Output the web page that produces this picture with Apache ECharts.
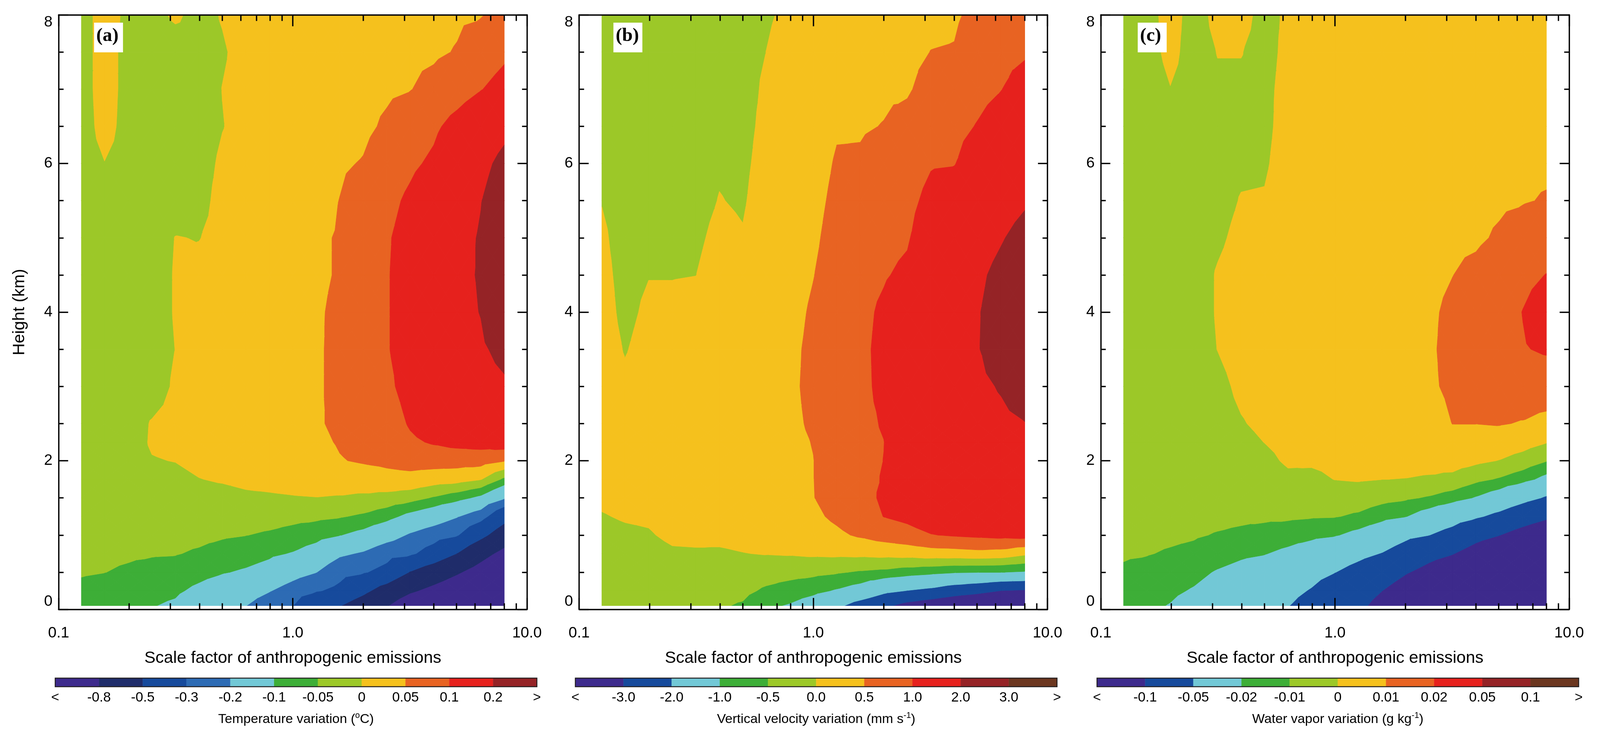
<!DOCTYPE html>
<html lang="en">
<head>
<meta charset="UTF-8">
<title>scale factor contours</title>
<script src="https://cdn.jsdelivr.net/npm/echarts@6/dist/echarts.min.js"></script>
<style>
  * { margin: 0; padding: 0; }
  html, body { background: #fff; overflow: hidden; }
  #chart { width: 100vw; height: 100vh; }
</style>
</head>
<body>
<div id="chart"></div>
<script>
// model grid: scale factors (x) and heights in km (y)
var scaleFactors = [0.125, 0.157, 0.198, 0.25, 0.315, 0.397, 0.5, 0.63, 0.794, 1.0, 1.26, 1.587, 2.0, 2.52, 3.175, 4.0, 5.04, 6.35, 8.0];
var heights = [0.05, 0.25, 0.5, 0.75, 1.0, 1.25, 1.5, 1.75, 2.0, 2.25, 2.5, 3.0, 3.5, 4.0, 4.5, 5.0, 5.5, 6.0, 6.5, 7.0, 7.5, 8.0];

// one vertical profile (bottom -> top) per scale factor
var tempVar = [
  [-0.07, -0.058, -0.047, -0.043, -0.038, -0.035, -0.032, -0.03, -0.028, -0.027, -0.025, -0.025, -0.025, -0.025, -0.025, -0.025, -0.025, -0.02, -0.02, -0.02, -0.02, -0.02],
  [-0.075, -0.063, -0.0495, -0.043, -0.038, -0.034, -0.03, -0.027, -0.024, -0.022, -0.02, -0.02, -0.02, -0.02, -0.02, -0.02, -0.02, -0.001, 0.015, 0.02, 0.02, 0.02],
  [-0.085, -0.072, -0.055, -0.045, -0.038, -0.032, -0.027, -0.022, -0.016, -0.018, -0.02, -0.02, -0.02, -0.02, -0.02, -0.02, -0.02, -0.015, -0.015, -0.015, -0.015, -0.01],
  [-0.097, -0.082, -0.062, -0.047, -0.038, -0.03, -0.022, -0.013, -0.002, 0.004, 0.003, -0.02, -0.02, -0.02, -0.02, -0.02, -0.02, -0.02, -0.02, -0.02, -0.02, -0.01],
  [-0.11, -0.09, -0.066, -0.048, -0.038, -0.028, -0.019, -0.01, 0.001, 0.008, 0.012, 0.006, 0.0005, 0.003, 0.003, 0.001, -0.02, -0.02, -0.02, -0.02, -0.015, 0.005],
  [-0.15, -0.115, -0.08, -0.055, -0.04, -0.028, -0.015, -0.001, 0.01, 0.016, 0.018, 0.012, 0.008, 0.01, 0.01, -0.001, -0.01, -0.012, -0.015, -0.015, -0.01, -0.01],
  [-0.185, -0.14, -0.096, -0.066, -0.045, -0.03, -0.014, 0.004, 0.015, 0.02, 0.022, 0.02, 0.016, 0.018, 0.018, 0.01, 0.01, 0.005, -0.001, 0.0005, -0.003, 0.002],
  [-0.198, -0.16, -0.108, -0.075, -0.049, -0.03, -0.008, 0.01, 0.02, 0.025, 0.028, 0.027, 0.024, 0.025, 0.025, 0.02, 0.02, 0.012, 0.01, 0.01, 0.01, 0.015],
  [-0.25, -0.195, -0.125, -0.09, -0.056, -0.032, -0.006, 0.014, 0.025, 0.03, 0.033, 0.033, 0.03, 0.03, 0.03, 0.028, 0.025, 0.02, 0.02, 0.02, 0.02, 0.02],
  [-0.298, -0.24, -0.165, -0.104, -0.066, -0.037, -0.003, 0.018, 0.03, 0.036, 0.04, 0.04, 0.038, 0.038, 0.038, 0.035, 0.03, 0.03, 0.025, 0.025, 0.025, 0.025],
  [-0.45, -0.29, -0.198, -0.13, -0.08, -0.04, -0.001, 0.022, 0.035, 0.042, 0.046, 0.047, 0.047, 0.047, 0.046, 0.046, 0.04, 0.035, 0.03, 0.03, 0.03, 0.03],
  [-0.49, -0.33, -0.265, -0.185, -0.098, -0.046, -0.004, 0.025, 0.048, 0.053, 0.057, 0.056, 0.056, 0.055, 0.052, 0.052, 0.0505, 0.046, 0.035, 0.035, 0.035, 0.03],
  [-0.62, -0.45, -0.29, -0.21, -0.12, -0.058, -0.01, 0.03, 0.054, 0.06, 0.068, 0.07, 0.075, 0.075, 0.075, 0.075, 0.065, 0.052, 0.043, 0.04, 0.04, 0.035],
  [-0.78, -0.6, -0.34, -0.26, -0.16, -0.08, -0.018, 0.038, 0.058, 0.068, 0.075, 0.09, 0.097, 0.097, 0.097, 0.095, 0.085, 0.07, 0.055, 0.045, 0.042, 0.035],
  [-1.0, -0.76, -0.51, -0.28, -0.21, -0.12, -0.03, 0.038, 0.065, 0.092, 0.105, 0.118, 0.12, 0.12, 0.12, 0.12, 0.11, 0.09, 0.07, 0.049, 0.045, 0.04],
  [-1.1, -0.88, -0.63, -0.36, -0.25, -0.15, -0.055, 0.025, 0.07, 0.105, 0.125, 0.14, 0.15, 0.15, 0.15, 0.15, 0.14, 0.11, 0.09, 0.06, 0.045, 0.04],
  [-1.2, -1.0, -0.77, -0.505, -0.29, -0.195, -0.08, 0.02, 0.07, 0.115, 0.14, 0.16, 0.17, 0.18, 0.185, 0.18, 0.17, 0.15, 0.12, 0.075, 0.052, 0.045],
  [-1.4, -1.15, -0.92, -0.7, -0.44, -0.25, -0.115, 0.003, 0.07, 0.12, 0.15, 0.175, 0.19, 0.202, 0.205, 0.205, 0.198, 0.18, 0.15, 0.098, 0.07, 0.048],
  [-1.6, -1.35, -1.1, -0.88, -0.63, -0.42, -0.19, -0.06, 0.053, 0.13, 0.16, 0.19, 0.22, 0.26, 0.27, 0.26, 0.24, 0.22, 0.18, 0.12, 0.09, 0.06]
];

var wVar = [
  [-0.35, -0.3, -0.25, -0.18, -0.1, -0.02, 0.06, 0.12, 0.15, 0.17, 0.18, 0.18, 0.16, 0.13, 0.09, 0.05, -0.01, -0.05, -0.08, -0.1, -0.1, -0.1],
  [-0.35, -0.3, -0.24, -0.15, -0.06, 0.03, 0.1, 0.14, 0.15, 0.15, 0.13, 0.07, -0.02, -0.08, -0.1, -0.12, -0.13, -0.14, -0.14, -0.14, -0.13, -0.12],
  [-0.35, -0.3, -0.22, -0.13, -0.03, 0.05, 0.12, 0.16, 0.18, 0.19, 0.19, 0.17, 0.12, 0.06, -0.01, -0.06, -0.1, -0.12, -0.13, -0.14, -0.14, -0.13],
  [-0.33, -0.27, -0.18, -0.05, 0.07, 0.14, 0.18, 0.2, 0.21, 0.21, 0.2, 0.18, 0.13, 0.06, -0.01, -0.06, -0.1, -0.12, -0.13, -0.14, -0.14, -0.13],
  [-0.32, -0.26, -0.17, -0.04, 0.08, 0.15, 0.19, 0.21, 0.22, 0.22, 0.22, 0.2, 0.15, 0.08, -0.002, -0.05, -0.09, -0.11, -0.12, -0.13, -0.13, -0.12],
  [-0.45, -0.36, -0.22, -0.05, 0.09, 0.17, 0.21, 0.23, 0.24, 0.25, 0.25, 0.24, 0.21, 0.17, 0.12, 0.07, 0.01, -0.03, -0.06, -0.08, -0.09, -0.09],
  [-0.55, -0.38, -0.2, -0.01, 0.12, 0.2, 0.25, 0.27, 0.28, 0.29, 0.29, 0.28, 0.24, 0.18, 0.1, 0.02, -0.03, -0.06, -0.08, -0.09, -0.09, -0.08],
  [-0.9, -0.58, -0.28, 0.02, 0.16, 0.25, 0.3, 0.33, 0.35, 0.36, 0.36, 0.35, 0.32, 0.28, 0.24, 0.19, 0.15, 0.11, 0.07, 0.04, 0.002, -0.03],
  [-1.05, -0.72, -0.33, 0.04, 0.2, 0.3, 0.36, 0.4, 0.42, 0.43, 0.44, 0.44, 0.42, 0.38, 0.34, 0.3, 0.26, 0.22, 0.18, 0.14, 0.1, 0.05],
  [-1.35, -0.85, -0.38, 0.08, 0.3, 0.42, 0.49, 0.495, 0.495, 0.51, 0.54, 0.58, 0.58, 0.55, 0.49, 0.43, 0.38, 0.33, 0.28, 0.24, 0.2, 0.15],
  [-1.8, -1.06, -0.45, 0.1, 0.42, 0.58, 0.65, 0.68, 0.7, 0.71, 0.72, 0.73, 0.73, 0.72, 0.7, 0.66, 0.6, 0.54, 0.46, 0.4, 0.35, 0.3],
  [-2.4, -1.3, -0.55, 0.12, 0.56, 0.75, 0.82, 0.86, 0.88, 0.9, 0.9, 0.9, 0.9, 0.88, 0.84, 0.78, 0.7, 0.54, 0.47, 0.42, 0.37, 0.33],
  [-2.8, -1.8, -0.62, 0.16, 0.7, 1.01, 1.08, 1.03, 1.005, 0.995, 1.03, 1.1, 1.12, 1.08, 0.96, 0.86, 0.76, 0.64, 0.51, 0.45, 0.4, 0.36],
  [-3.3, -2.02, -0.75, 0.2, 0.82, 1.12, 1.3, 1.35, 1.38, 1.4, 1.42, 1.45, 1.42, 1.32, 1.1, 0.95, 0.85, 0.74, 0.62, 0.46, 0.41, 0.38],
  [-3.6, -2.2, -0.85, 0.28, 0.98, 1.3, 1.45, 1.52, 1.56, 1.6, 1.62, 1.66, 1.66, 1.6, 1.5, 1.35, 1.15, 0.96, 0.8, 0.64, 0.505, 0.42],
  [-3.9, -2.5, -0.95, 0.3, 1.05, 1.38, 1.55, 1.63, 1.68, 1.72, 1.75, 1.8, 1.82, 1.78, 1.68, 1.5, 1.3, 0.98, 0.85, 0.7, 0.52, 0.45],
  [-4.2, -2.7, -0.98, 0.35, 1.1, 1.45, 1.62, 1.72, 1.78, 1.82, 1.86, 1.92, 1.98, 1.97, 1.9, 1.75, 1.55, 1.3, 1.03, 0.85, 0.72, 0.6],
  [-4.5, -3.02, -0.99, 0.3, 1.15, 1.5, 1.68, 1.78, 1.84, 1.88, 1.92, 2.03, 2.2, 2.22, 2.15, 1.96, 1.75, 1.5, 1.25, 0.99, 0.85, 0.72],
  [-4.8, -3.1, -1.05, 0.1, 1.2, 1.55, 1.72, 1.82, 1.88, 1.93, 1.99, 2.2, 2.4, 2.45, 2.38, 2.2, 1.93, 1.7, 1.5, 1.25, 0.93, 0.8]
];

var qVar = [
  [-0.016, -0.014, -0.011, -0.0092, -0.008, -0.007, -0.006, -0.006, -0.005, -0.005, -0.005, -0.005, -0.005, -0.005, -0.005, -0.005, -0.005, -0.005, -0.005, -0.005, -0.004, -0.004],
  [-0.018, -0.016, -0.0125, -0.0096, -0.008, -0.007, -0.006, -0.006, -0.005, -0.005, -0.005, -0.005, -0.005, -0.005, -0.005, -0.005, -0.005, -0.005, -0.005, -0.004, -0.003, -0.003],
  [-0.0205, -0.018, -0.0145, -0.0108, -0.0085, -0.007, -0.006, -0.005, -0.005, -0.005, -0.005, -0.005, -0.005, -0.005, -0.005, -0.005, -0.005, -0.004, -0.003, -0.0002, 0.002, 0.003],
  [-0.025, -0.021, -0.017, -0.012, -0.0092, -0.0075, -0.006, -0.005, -0.0045, -0.004, -0.004, -0.003, -0.003, -0.003, -0.003, -0.003, -0.003, -0.003, -0.003, -0.003, -0.003, -0.003],
  [-0.03, -0.025, -0.021, -0.015, -0.0105, -0.008, -0.0065, -0.0055, -0.0045, -0.004, -0.003, -0.002, 0.0001, 0.0005, 0.0005, -0.001, -0.002, -0.002, -0.002, -0.001, 0.0002, 0.002],
  [-0.036, -0.03, -0.024, -0.018, -0.0115, -0.0085, -0.0065, -0.005, -0.0035, -0.002, -0.0005, 0.0015, 0.003, 0.003, 0.0025, 0.0015, 0.0003, -0.001, -0.0015, -0.001, 0.0002, 0.002],
  [-0.045, -0.037, -0.027, -0.0195, -0.013, -0.0085, -0.006, -0.004, -0.0018, 0.0001, 0.0015, 0.003, 0.004, 0.004, 0.0035, 0.0025, 0.0005, -0.0008, -0.0015, -0.0015, -0.002, -0.002],
  [-0.049, -0.042, -0.031, -0.023, -0.015, -0.0085, -0.005, -0.0015, 0.001, 0.002, 0.003, 0.004, 0.0045, 0.005, 0.005, 0.0045, 0.004, 0.003, 0.0025, 0.002, 0.0015, 0.001],
  [-0.062, -0.052, -0.04, -0.028, -0.017, -0.0092, -0.0055, -0.002, 0.0012, 0.0025, 0.0035, 0.0045, 0.005, 0.0055, 0.0055, 0.005, 0.0045, 0.004, 0.0035, 0.003, 0.0025, 0.002],
  [-0.085, -0.068, -0.0495, -0.035, -0.019, -0.0095, -0.005, 0.0002, 0.002, 0.003, 0.004, 0.005, 0.0055, 0.006, 0.006, 0.0055, 0.005, 0.0045, 0.004, 0.0035, 0.003, 0.0025],
  [-0.09, -0.08, -0.06, -0.043, -0.024, -0.0115, -0.005, 0.0008, 0.0025, 0.0035, 0.0045, 0.0055, 0.006, 0.0065, 0.0065, 0.006, 0.0055, 0.005, 0.0045, 0.004, 0.0035, 0.003],
  [-0.115, -0.0995, -0.072, -0.051, -0.031, -0.016, -0.007, 0.0001, 0.003, 0.004, 0.005, 0.006, 0.0065, 0.007, 0.007, 0.0065, 0.006, 0.0055, 0.005, 0.0045, 0.004, 0.0035],
  [-0.16, -0.125, -0.096, -0.065, -0.043, -0.0195, -0.0085, -0.0002, 0.003, 0.0045, 0.0055, 0.0068, 0.0075, 0.008, 0.008, 0.0075, 0.007, 0.0065, 0.006, 0.0055, 0.005, 0.0045],
  [-0.19, -0.15, -0.115, -0.085, -0.0495, -0.027, -0.011, -0.001, 0.003, 0.005, 0.0065, 0.0088, 0.009, 0.0088, 0.0082, 0.0078, 0.0073, 0.0068, 0.0063, 0.006, 0.0055, 0.005],
  [-0.23, -0.18, -0.135, -0.098, -0.062, -0.036, -0.015, -0.0025, 0.004, 0.0075, 0.0101, 0.0115, 0.012, 0.0115, 0.0099, 0.0088, 0.008, 0.0075, 0.007, 0.0065, 0.006, 0.0055],
  [-0.27, -0.21, -0.16, -0.12, -0.085, -0.046, -0.021, -0.0075, 0.002, 0.007, 0.0101, 0.0125, 0.014, 0.0135, 0.012, 0.0088, 0.008, 0.0078, 0.0075, 0.007, 0.0065, 0.006],
  [-0.3, -0.24, -0.185, -0.14, -0.099, -0.058, -0.028, -0.011, -0.0003, 0.006, 0.0105, 0.014, 0.016, 0.0165, 0.015, 0.011, 0.0088, 0.0082, 0.0078, 0.0074, 0.007, 0.0065],
  [-0.34, -0.27, -0.21, -0.16, -0.12, -0.075, -0.04, -0.016, -0.004, 0.004, 0.0095, 0.015, 0.0195, 0.0202, 0.018, 0.014, 0.0095, 0.0088, 0.0083, 0.0079, 0.0075, 0.007],
  [-0.38, -0.31, -0.24, -0.19, -0.14, -0.092, -0.053, -0.024, -0.0095, 0.0005, 0.0075, 0.015, 0.021, 0.024, 0.0202, 0.016, 0.0105, 0.0088, 0.009, 0.0085, 0.008, 0.0075]
];

// contour levels, fill colours and colour bar labels
var tempLevels = [-0.8, -0.5, -0.3, -0.2, -0.1, -0.05, 0, 0.05, 0.1, 0.2];
var wLevels = [-3, -2, -1, -0.5, 0, 0.5, 1, 2, 3];
var qLevels = [-0.1, -0.05, -0.02, -0.01, 0, 0.01, 0.02, 0.05, 0.1];
var tempColors = ['#3D2A8C', '#1F2C6A', '#164A9C', '#2D6BB4', '#72C8D6', '#3DAE37', '#9CC828', '#F5C11D', '#E86322', '#E6211D', '#952326'];
var wqColors = ['#3D2A8C', '#164A9C', '#72C8D6', '#3DAE37', '#9CC828', '#F5C11D', '#E86322', '#E6211D', '#952326', '#6B361F'];
var tempTickLabels = ['<', '-0.8', '-0.5', '-0.3', '-0.2', '-0.1', '-0.05', '0', '0.05', '0.1', '0.2', '>'];
var wTickLabels = ['<', '-3.0', '-2.0', '-1.0', '-0.5', '0.0', '0.5', '1.0', '2.0', '3.0', '>'];
var qTickLabels = ['<', '-0.1', '-0.05', '-0.02', '-0.01', '0', '0.01', '0.02', '0.05', '0.1', '>'];
var minorScaleTicks = [0.2, 0.3, 0.4, 0.5, 0.6, 0.7, 0.8, 0.9, 2, 3, 4, 5, 6, 7, 8, 9];

var panels = [
  { left: 154, tag: '(a)', tagLeft: 247, profiles: tempVar, levels: tempLevels, colors: tempColors,
    cbLeft: 145, cbLabels: tempTickLabels, cbTitle: 'Temperature variation ({sup|o}C)' },
  { left: 1521, tag: '(b)', tagLeft: 1611, profiles: wVar, levels: wLevels, colors: wqColors,
    cbLeft: 1511, cbLabels: wTickLabels, cbTitle: 'Vertical velocity variation (mm s{sup|-1})' },
  { left: 2891, tag: '(c)', tagLeft: 2988, profiles: qVar, levels: qLevels, colors: wqColors,
    cbLeft: 2881, cbLabels: qTickLabels, cbTitle: 'Water vapor variation (g kg{sup|-1})' }
];

// layout is measured on a 4202 x 1897 figure and scaled to the window
var W = window.innerWidth || 4202, H = window.innerHeight || 1897;
var sx = W / 4202, sy = H / 1897, s = Math.min(sx, sy);
var FONT = 'Liberation Sans';
var plotTop = 38 * sy, plotH = 1522 * sy, plotW = 1230 * sx;
var cbTop = 1736 * sy, cbH = 22 * sy, cbW = 1265 * sx;

// keep the part of a polygon on one side of a level (side 1: v >= level, -1: v <= level)
function clip(poly, level, side) {
  var out = [];
  for (var i = 0; i < poly.length; i++) {
    var a = poly[i], b = poly[(i + 1) % poly.length];
    var ina = (a.v - level) * side >= 0, inb = (b.v - level) * side >= 0;
    if (ina) out.push(a);
    if (ina !== inb) {
      var t = (level - a.v) / (b.v - a.v);
      out.push({ x: a.x + t * (b.x - a.x), y: a.y + t * (b.y - a.y), v: level });
    }
  }
  return out;
}

// filled contours for one grid cell, split into 4 triangles
function contourItem(profiles, levels, colors) {
  return function (params, api) {
    var c = api.value(2), r = api.value(3);
    var pts = [[c, r], [c + 1, r], [c + 1, r + 1], [c, r + 1]].map(function (d) {
      var p = api.coord([scaleFactors[d[0]], heights[d[1]]]);
      return { x: p[0], y: p[1], v: profiles[d[0]][d[1]] };
    });
    var mid = { x: 0, y: 0, v: 0 };
    pts.forEach(function (p) { mid.x += p.x / 4; mid.y += p.y / 4; mid.v += p.v / 4; });
    var children = [];
    for (var t = 0; t < 4; t++) {
      var tri = [pts[t], pts[(t + 1) % 4], mid];
      for (var b = 0; b <= levels.length; b++) {
        var poly = tri;
        if (b > 0) poly = clip(poly, levels[b - 1], 1);
        if (b < levels.length && poly.length > 2) poly = clip(poly, levels[b], -1);
        if (poly.length > 2) {
          children.push({
            type: 'polygon',
            shape: { points: poly.map(function (p) { return [p.x, p.y]; }) },
            style: { fill: colors[b], stroke: colors[b], lineWidth: 1 }
          });
        }
      }
    }
    return { type: 'group', children: children };
  };
}

function minorTickItem(params, api) {
  var v = api.value(0);
  var lo = api.coord([v, 0]), hi = api.coord([v, 8]);
  var st = { stroke: '#000', lineWidth: 3.5 * s };
  return {
    type: 'group', children: [
      { type: 'line', shape: { x1: lo[0], y1: lo[1], x2: lo[0], y2: lo[1] - 16 * s }, style: st },
      { type: 'line', shape: { x1: hi[0], y1: hi[1], x2: hi[0], y2: hi[1] + 16 * s }, style: st }
    ]
  };
}

var cells = [];
for (var c = 0; c < scaleFactors.length - 1; c++) {
  for (var r = 0; r < heights.length - 1; r++) {
    cells.push([scaleFactors[c], heights[r], c, r]);
  }
}

var lineSt = { color: '#000', width: 3.5 * s };
var grid = [], xAxis = [], yAxis = [], series = [], graphic = [];

panels.forEach(function (p, i) {
  grid.push({ left: p.left * sx, top: plotTop, width: plotW, height: plotH, outerBoundsMode: 'none' });
  [0, 1].forEach(function (k) {
    xAxis.push({
      type: 'log', gridIndex: i, min: 0.1, max: 10, logBase: 10, position: k ? 'top' : 'bottom', z: 5,
      axisLine: { show: true, onZero: false, lineStyle: lineSt },
      axisTick: { show: true, inside: true, length: 30 * s, lineStyle: lineSt },
      minorTick: { show: false }, splitLine: { show: false },
      axisLabel: {
        show: !k, fontFamily: FONT, fontSize: 40 * s, color: '#000', margin: 42 * sy,
        showMinLabel: true, showMaxLabel: true,
        formatter: function (v) { return Number(v).toFixed(1); }
      },
      name: k ? '' : 'Scale factor of anthropogenic emissions', nameLocation: 'middle', nameGap: 104 * sy,
      nameTextStyle: { fontFamily: FONT, fontSize: 44 * s, color: '#000' }
    });
    yAxis.push({
      type: 'value', gridIndex: i, min: 0, max: 8, interval: 2, position: k ? 'right' : 'left', z: 5,
      axisLine: { show: true, onZero: false, lineStyle: lineSt },
      axisTick: { show: true, inside: true, length: 25 * s, lineStyle: lineSt },
      minorTick: { show: true, splitNumber: 4, length: 13 * s, lineStyle: lineSt },
      splitLine: { show: false }, minorSplitLine: { show: false },
      axisLabel: {
        show: !k, fontFamily: FONT, fontSize: 40 * s, color: '#000', margin: 16 * sx,
        verticalAlignMinLabel: 'bottom', verticalAlignMaxLabel: 'top'
      },
      name: (i === 0 && !k) ? 'Height (km)' : '', nameLocation: 'middle', nameGap: 80 * sx, nameRotate: 90,
      nameTextStyle: { fontFamily: FONT, fontSize: 44 * s, color: '#000' }
    });
  });
  series.push({
    type: 'custom', xAxisIndex: 2 * i, yAxisIndex: 2 * i, silent: true, clip: false, z: 2,
    encode: { x: 0, y: 1 }, data: cells, renderItem: contourItem(p.profiles, p.levels, p.colors)
  });
  series.push({
    type: 'custom', xAxisIndex: 2 * i, yAxisIndex: 2 * i, silent: true, clip: false, z: 6,
    encode: { x: 0, y: 1 }, data: minorScaleTicks.map(function (v) { return [v, 4]; }), renderItem: minorTickItem
  });
  // panel tag in a white box, above the filled contours
  graphic.push({
    type: 'rect', left: p.tagLeft * sx, top: 58 * sy, z: 20,
    shape: { width: 76 * sx, height: 76 * sy }, style: { fill: '#fff' }
  });
  graphic.push({
    type: 'text', left: (p.tagLeft + 6) * sx, top: 68 * sy, z: 21,
    style: { text: p.tag, fontFamily: 'Liberation Serif', fontWeight: 'bold', fontSize: 50 * s, fill: '#000' }
  });
});

// colour bars under each panel
panels.forEach(function (p, i) {
  var n = p.colors.length;
  grid.push({ left: p.cbLeft * sx, top: cbTop, width: cbW, height: cbH, outerBoundsMode: 'none' });
  xAxis.push({
    type: 'value', gridIndex: 3 + i, min: 0, max: n, interval: 1,
    axisLine: { show: false }, axisTick: { show: false }, splitLine: { show: false },
    axisLabel: {
      fontFamily: FONT, fontSize: 36 * s, color: '#000', margin: 11 * sy, showMinLabel: true, showMaxLabel: true,
      formatter: function (v) { return p.cbLabels[Math.round(v)]; }
    },
    name: p.cbTitle, nameLocation: 'middle', nameGap: 64 * sy,
    nameTextStyle: {
      fontFamily: FONT, fontSize: 35 * s, color: '#000', lineHeight: 40 * s,
      rich: { sup: { fontFamily: FONT, fontSize: 22 * s, color: '#000', verticalAlign: 'top', lineHeight: 22 * s } }
    }
  });
  yAxis.push({ type: 'value', gridIndex: 3 + i, min: 0, max: 1, show: false });
  series.push({
    type: 'custom', xAxisIndex: 6 + i, yAxisIndex: 6 + i, silent: true,
    encode: { x: 0, y: 1 }, data: p.colors.map(function (col, k) { return [k, 0.5]; }),
    renderItem: function (params, api) {
      var k = api.value(0);
      var a = api.coord([k, 1]), b = api.coord([k + 1, 0]);
      return { type: 'rect', shape: { x: a[0], y: a[1], width: b[0] - a[0], height: b[1] - a[1] },
        style: { fill: p.colors[k], stroke: p.colors[k], lineWidth: 0.5 } };
    }
  });
  series.push({
    type: 'custom', xAxisIndex: 6 + i, yAxisIndex: 6 + i, silent: true, z: 4,
    encode: { x: 0, y: 1 }, data: [[0, 0.5]],
    renderItem: function (params, api) {
      var a = api.coord([0, 1]), b = api.coord([n, 0]);
      return { type: 'rect', shape: { x: a[0], y: a[1], width: b[0] - a[0], height: b[1] - a[1] },
        style: { fill: 'none', stroke: '#231f20', lineWidth: 2.5 * s } };
    }
  });
});

var myChart = echarts.init(document.getElementById('chart'));
myChart.setOption({
  backgroundColor: '#fff',
  animation: false,
  grid: grid,
  xAxis: xAxis,
  yAxis: yAxis,
  series: series,
  graphic: graphic
});
</script>
</body>
</html>
